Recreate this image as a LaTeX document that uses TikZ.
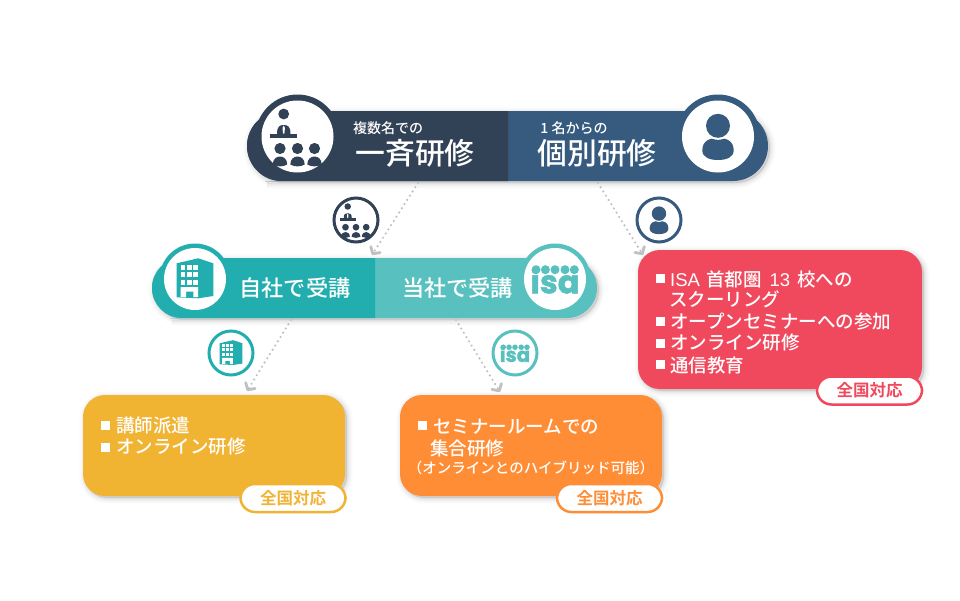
\documentclass[tikz,border=0pt]{standalone}
\usepackage{fontspec}
\setmainfont{Noto Sans CJK JP Medium}[BoldFont=Noto Sans CJK JP Bold]
\newfontfamily\isafont{Poppins}[FakeBold=1.5]
\newfontfamily\latinfont{Liberation Sans}
\usetikzlibrary{arrows.meta}
\definecolor{cdark}{HTML}{324256}
\definecolor{cblue}{HTML}{375A7F}
\definecolor{cteal}{HTML}{22AEAF}
\definecolor{cltea}{HTML}{58C1BF}
\definecolor{cred}{HTML}{F0485C}
\definecolor{cyel}{HTML}{F0B332}
\definecolor{cora}{HTML}{FF8D35}
\definecolor{cdot}{HTML}{BEC0C3}
\tikzset{
  x=1pt,y=-1pt,
  shadelayer/.style n args={2}{preaction={draw=black,fill=black,opacity=#1,line width=#2,transform canvas={xshift=2pt,yshift=-2pt}}},
  softshade/.style={shadelayer={.008}{12pt},shadelayer={.012}{10pt},shadelayer={.016}{8pt},shadelayer={.02}{6pt},shadelayer={.024}{4pt},shadelayer={.028}{2pt}},
  card/.style={rectangle,rounded corners=22pt,softshade,inner sep=0pt},
  badge/.style={rectangle,rounded corners=14.5pt,fill=white,draw=#1,text=#1,line width=2.5pt,minimum width=105pt,minimum height=28pt,inner sep=0pt,font=\fontsize{16.5}{16.5}\selectfont\bfseries},
  ring/.style={circle,fill=white,inner sep=0pt,minimum size=#1},
  smallring/.style={circle,fill=white,draw=#1,line width=3pt,inner sep=0pt,minimum size=44pt},
  bul/.style={rectangle,fill=white,inner sep=0pt,minimum size=9pt},
  item/.style={anchor=west,text=white,inner sep=0pt,font=\fontsize{18.5}{18.5}\selectfont},
  small/.style={anchor=center,text=white,inner sep=0pt,font=\fontsize{14}{14}\selectfont},
  large/.style={anchor=center,text=white,inner sep=0pt,font=\fontsize{29.8}{29.8}\selectfont},
  mid/.style={anchor=center,text=white,inner sep=0pt,font=\fontsize{22.2}{22.2}\selectfont},
  conn/.style={cdot,line width=2.4pt,line cap=round,dash pattern=on 0pt off 5pt,-{Straight Barb[length=5pt,width=11pt,line width=2.8pt,round]}},
  presenter/.pic={
    \fill[pic actions] (-13.8,-22.5) circle[radius=5.4pt];
    \fill[pic actions] (-20.5,-2.5) .. controls (-20.5,-10) and (-18,-11.5) .. (-13.8,-11.5) .. controls (-9.5,-11.5) and (-7,-10) .. (-7,-2.5) -- cycle;
    \fill[white] (-13.8,-11) -- (-12.6,-8.5) -- (-13.1,-3) -- (-14.5,-3) -- (-15,-8.5) -- cycle;
    \fill[pic actions] (-27.5,-2.8) rectangle (-0.2,1);
    \foreach \u in {-17.5,0,17} {
      \fill[pic actions] (\u,12) circle[radius=5.6pt];
      \fill[pic actions] (\u-7.2,28) .. controls (\u-7.2,22.5) and (\u-3.5,20) .. (\u,20) .. controls (\u+3.5,20) and (\u+7.2,22.5) .. (\u+7.2,28) .. controls (\u+3,30.5) and (\u-3,30.5) .. (\u-7.2,28) -- cycle;
    }
  },
  person/.pic={
    \fill[pic actions] (-15.7,14) .. controls (-15.7,4) and (-8,1.5) .. (0,1.5) .. controls (8,1.5) and (15.7,4) .. (15.7,14) .. controls (15.7,21) and (8,23.5) .. (0,23.5) .. controls (-8,23.5) and (-15.7,21) .. (-15.7,14) -- cycle;
    \fill[white] (0,-10.7) circle[radius=14pt];
    \fill[pic actions] (0,-10.7) circle[radius=12pt];
  },
  building/.pic={
    \fill[pic actions] (-18.3,-15.7) -- (3.3,-20.7) -- (18.3,-15.7) -- (18.3,17) -- (3.3,19.3) -- (-18.3,18.3) -- cycle;
    \foreach \c in {-14.4,-8,-1.7} \foreach \r in {-14.5,-7.5,0.5} {
      \fill[white] (\c,\r) rectangle ++(4.7,5);
    }
    \fill[white] (-14.4,8) -- (3,8) -- (3,18) -- (-1.7,18) -- (-1.7,12.5) -- (-9,12.5) -- (-9,18) -- (-14.4,18) -- cycle;
  },
  isalogo/.pic={
    \foreach \u in {-19,-9.6,0,10,19.3} \fill[pic actions] (\u,-9.3) circle[radius=4.5pt];
    \node[transform shape,anchor=base,inner sep=0pt,text=cltea,font=\isafont\bfseries\fontsize{32}{32}\selectfont] (word) at (0,14.3) {isa};
  }
}
\begin{document}
\begin{tikzpicture}
\useasboundingbox (0,0) rectangle (960,600);
\fill[white] (0,0) rectangle (960,600);

% connectors' ends
\coordinate (a1) at (418,183); \coordinate (a2) at (372,255);
\coordinate (b1) at (598,183); \coordinate (b2) at (643,255);
\coordinate (c1) at (291,320); \coordinate (c2) at (247,391);
\coordinate (d1) at (456,320); \coordinate (d2) at (500,392);

% top pill
\path[fill=cblue,softshade,rounded corners=35pt] (300,111) -- (247,111) -- (247,181) -- (300,181) [sharp corners] -- (700,181) [rounded corners=35pt] -- (768,181) -- (768,111) -- (700,111) [sharp corners] -- cycle;
\fill[cdark,rounded corners=35pt] (300,111) -- (247,111) -- (247,181) -- (300,181) [sharp corners] -- (508,181) -- (508,111) -- cycle;
\fill[cdark] (297.5,136.5) circle[radius=42pt];
\fill[cblue] (718,136.5) circle[radius=42pt];
\node[ring=72pt] (r1) at (297.5,136.5) {};
\node[ring=72pt] (r2) at (718,136.5) {};
\pic[cdark] (p1) at (297.5,136.5) {presenter};
\pic[cblue] (p2) at (718,136.5) {person};
\node[small] (t1) at (388,128) {複数名での};
\node[large] (t2) at (415,153) {一斉研修};
\node[small] (t3) at (574,128) {1 名からの};
\node[large] (t4) at (597,153) {個別研修};

% second pill
\path[fill=cltea,softshade,rounded corners=30pt] (200,258) -- (152,258) -- (152,318) -- (200,318) [sharp corners] -- (540,318) [rounded corners=30pt] -- (597,318) -- (597,258) -- (540,258) [sharp corners] -- cycle;
\fill[cteal,rounded corners=30pt] (200,258) -- (152,258) -- (152,318) -- (200,318) [sharp corners] -- (375,318) -- (375,258) -- cycle;
\fill[cteal] (195,279) circle[radius=35.5pt];
\fill[cltea] (555,279) circle[radius=35.5pt];
\node[ring=62pt] (r3) at (195,279) {};
\node[ring=62pt] (r4) at (555,279) {};
\pic[cteal] (p3) at (195,279) {building};
\pic[cltea] (p4) at (555,279) {isalogo};
\node[mid] (t5) at (295,288) {自社で受講};
\node[mid] (t6) at (457.5,288) {当社で受講};

% small icons
\node[smallring=cdark] (s1) at (356,220) {};
\pic[cdark,scale=.6] (q1) at (356,220) {presenter};
\node[smallring=cblue] (s2) at (659,220) {};
\pic[cblue,scale=.6] (q2) at (659,220) {person};
\node[smallring=cteal] (s3) at (231,353) {};
\pic[cteal,scale=.62] (q3) at (231,353) {building};
\node[smallring=cltea] (s4) at (515,353) {};
\pic[cltea,scale=.62] (q4) at (515,353) {isalogo};

% connectors
\draw[conn] (a1) -- (a2);
\draw[conn] (b1) -- (b2);
\draw[conn] (c1) -- (c2);
\draw[conn] (d1) -- (d2);

% cards
\node[card,fill=cred,minimum width=284pt,minimum height=139pt] (redc) at (780,319.5) {};
\node[card,fill=cyel,minimum width=262pt,minimum height=101pt] (yelc) at (214,445.5) {};
\node[card,fill=cora,minimum width=262pt,minimum height=101pt] (orac) at (531,445.5) {};

\node[bul] (rb1) at (660.5,278) {};
\node[item] (r1t) at (670,279) {{\latinfont ISA}\hspace{6pt}首都圏\hspace{8pt}{\latinfont 13}\hspace{7pt}校への};
\node[item] (r2t) at (669,299) {スクーリング};
\node[bul] (rb2) at (660.5,321) {};
\node[item] (r3t) at (670,322) {オープンセミナーへの参加};
\node[bul] (rb3) at (660.5,343) {};
\node[item] (r4t) at (670,343) {オンライン研修};
\node[bul] (rb4) at (660.5,364) {};
\node[item] (r5t) at (670,365) {通信教育};

\node[bul] (yb1) at (105.5,425) {};
\node[item] (y1t) at (116,426) {講師派遣};
\node[bul] (yb2) at (105.5,447) {};
\node[item] (y2t) at (116,447) {オンライン研修};

\node[bul] (ob1) at (422.5,425) {};
\node[item] (o1t) at (433,427) {セミナールームでの};
\node[item] (o2t) at (430,448) {集合研修};
\node[anchor=center,text=white,inner sep=0pt,font=\fontsize{14.5}{14.5}\selectfont] (o3t) at (531,468) {（オンラインとのハイブリッド可能）};

\node[badge=cred] (b1n) at (869.5,390.5) {全国対応};
\node[badge=cyel] (b2n) at (293,498) {全国対応};
\node[badge=cora] (b3n) at (609.5,498) {全国対応};
\end{tikzpicture}
\end{document}
